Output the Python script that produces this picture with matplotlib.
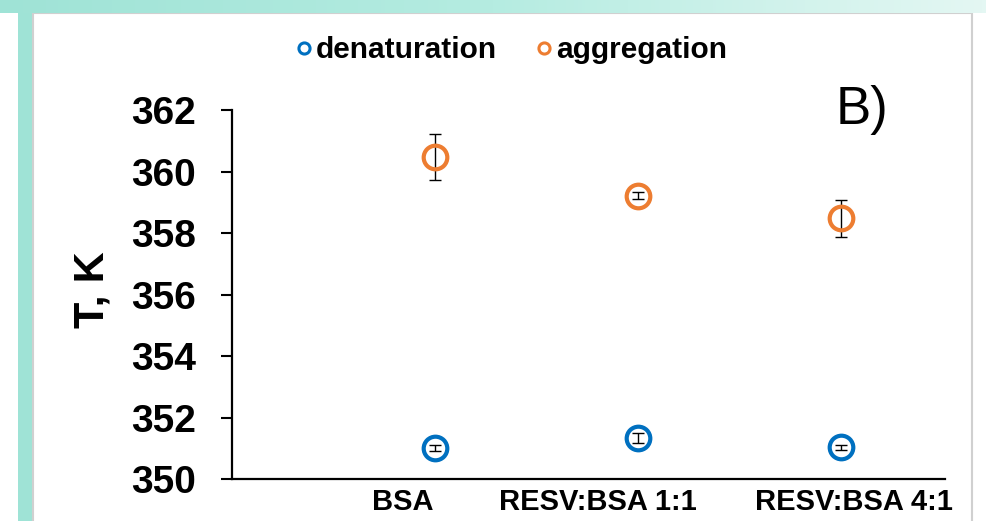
import numpy as np
import matplotlib

matplotlib.use("Agg")
import matplotlib.pyplot as plt
from matplotlib.lines import Line2D
from matplotlib.patches import Rectangle

plt.rcParams["font.family"] = ["Liberation Sans", "DejaVu Sans"]

# data (T in K)
categories = ["BSA", "RESV:BSA 1:1", "RESV:BSA 4:1"]
denaturation = [351.02, 351.33, 351.04]
denaturation_err = [0.09, 0.16, 0.09]
aggregation = [360.47, 359.22, 358.48]
aggregation_err = [0.75, 0.12, 0.61]
y_ticks = [350, 352, 354, 356, 358, 360, 362]

# layout
x_pts = np.arange(1, len(categories) + 1)
x_lab = [0.84, 1.80, 3.06]  # labels sit a bit off the points, as in the source
BLUE = "#0070C0"
ORANGE = "#ED7D31"
TEAL = "#9fe3d6"

W, H = 986, 521
fig = plt.figure(figsize=(W / 100, H / 100), dpi=100)
fig.patch.set_facecolor("white")

# background: top gradient band, left teal strip, white panel with grey border
band = fig.add_axes([0, 1 - 13 / H, 1, 13 / H])
grad = np.linspace(0, 1, 256)[None, :]
cmap = matplotlib.colors.LinearSegmentedColormap.from_list("t", [TEAL, "#b5ece1", "#e4f7f3"])
band.imshow(grad, aspect="auto", cmap=cmap, extent=[0, 1, 0, 1])
band.axis("off")
fig.patches.append(Rectangle((18 / W, 0), 15 / W, 1 - 13 / H, transform=fig.transFigure,
                             facecolor=TEAL, edgecolor="none", zorder=-5))
fig.patches.append(Rectangle((33 / W, -0.01), (972 - 33) / W, 1 - 13 / H + 0.01,
                             transform=fig.transFigure, facecolor="white",
                             edgecolor="#d0d0d0", linewidth=1.5, zorder=-5))

ax = fig.add_axes([232 / W, 41.7 / H, (945 - 232) / W, 369.3 / H])
ax.set_facecolor("none")
ax.set_zorder(2)

ax.errorbar(x_pts, denaturation, yerr=denaturation_err, fmt="none", ecolor="black",
            elinewidth=1.0, capsize=4, capthick=1.0, zorder=3)
ax.plot(x_pts, denaturation, "o", ms=17, mfc="none", mec=BLUE, mew=3, zorder=4)
ax.errorbar(x_pts, aggregation, yerr=aggregation_err, fmt="none", ecolor="black",
            elinewidth=1.0, capsize=4, capthick=1.0, zorder=3)
ax.plot(x_pts, aggregation, "o", ms=17, mfc="none", mec=ORANGE, mew=3, zorder=4)

ax.set_xlim(0, 3.51)
ax.set_ylim(350, 362)
ax.set_yticks(y_ticks)
ax.set_yticklabels([str(t) for t in y_ticks], fontsize=28, fontweight="bold")
ax.set_xticks(x_lab)
ax.set_xticklabels(categories, fontsize=21, fontweight="bold")
ax.tick_params(axis="y", direction="out", length=8, width=1.5, pad=18)
ax.tick_params(axis="x", length=0, pad=6)
for side in ["top", "right"]:
    ax.spines[side].set_visible(False)
for side in ["left", "bottom"]:
    ax.spines[side].set_linewidth(1.6)

fig.text(93 / W, 1 - 290 / H, "T, K", rotation=90, fontsize=31, fontweight="bold",
         ha="center", va="center")
fig.text(862 / W, 1 - 110 / H, "B)", fontsize=38, ha="center", va="center")

handles = [
    Line2D([], [], marker="o", ls="none", ms=8, mfc="none", mec=BLUE, mew=2.2),
    Line2D([], [], marker="o", ls="none", ms=8, mfc="none", mec=ORANGE, mew=2.2),
]
fig.legend(handles, ["denaturation", "aggregation"], loc="center",
           bbox_to_anchor=(511 / W, 1 - 50 / H), ncol=2, frameon=False,
           prop={"size": 21.5, "weight": "bold"}, handlelength=0.6,
           handletextpad=0.1, columnspacing=1.3, borderpad=0)

fig.savefig("out.png", dpi=100)
